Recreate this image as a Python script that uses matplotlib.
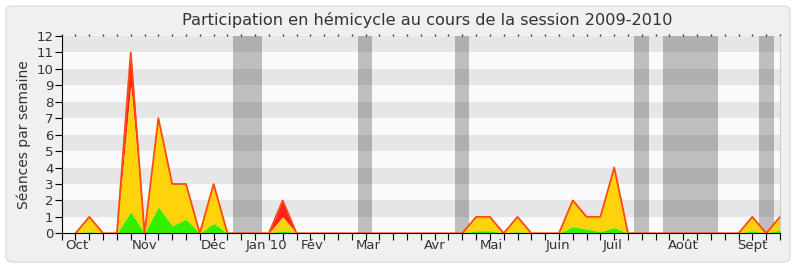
import numpy as np
import matplotlib
matplotlib.use("Agg")
import matplotlib.pyplot as plt
from matplotlib.patches import FancyBboxPatch
from matplotlib.transforms import IdentityTransform

plt.rcParams["font.family"] = ["DejaVu Sans"]

# weekly values, session 2009-2010 (week 1 = first week of October)
weeks = list(range(1, 53))
total = [0, 1, 0, 0, 11, 0, 7, 3, 3, 0, 3, 0, 0, 0, 0, 2, 0, 0, 0, 0,
         0, 0, 0, 0, 0, 0, 0, 0, 0, 1, 1, 0, 1, 0, 0, 0, 2, 1, 1, 4,
         0, 0, 0, 0, 0, 0, 0, 0, 0, 1, 0, 1]
presence = [0, 1, 0, 0, 9, 0, 7, 3, 3, 0, 3, 0, 0, 0, 0, 1, 0, 0, 0, 0,
            0, 0, 0, 0, 0, 0, 0, 0, 0, 1, 1, 0, 1, 0, 0, 0, 2, 1, 1, 4,
            0, 0, 0, 0, 0, 0, 0, 0, 0, 1, 0, 1]
interventions = [0, 0.1, 0, 0, 1.3, 0, 1.6, 0.45, 0.85, 0, 0.6, 0, 0, 0, 0, 0.15, 0, 0, 0, 0,
                 0, 0, 0, 0, 0, 0, 0, 0, 0, 0.15, 0.15, 0, 0.1, 0, 0, 0, 0.4, 0.25, 0.1, 0.35,
                 0, 0, 0, 0, 0, 0, 0, 0, 0, 0.15, 0, 0.2]

# vacation periods (in weeks)
vacations = [(12.4, 14.5), (21.45, 22.5), (28.5, 29.5), (41.45, 42.5), (43.5, 47.5), (50.5, 51.55)]

months = ["Oct", "Nov", "Déc", "Jan 10", "Fév", "Mar", "Avr", "Mai", "Juin", "Juil", "Août", "Sept"]
month_pos = [1.1, 6.0, 11.0, 14.8, 18.1, 22.2, 27.0, 31.1, 35.9, 39.9, 45.0, 50.0]

fig = plt.figure(figsize=(8, 2.67), dpi=100)
fig.patch.set_facecolor("white")
panel = FancyBboxPatch((6, 5), 784, 256, boxstyle="round,pad=0,rounding_size=6",
                       transform=IdentityTransform(), facecolor="#f0f0f0",
                       edgecolor="#dedede", linewidth=1, zorder=-10)
fig.patches.append(panel)

ax = fig.add_axes([0.0771, 0.1262, 0.8979, 0.739])
ax.set_facecolor("#fafafa")
for y0 in range(1, 12, 2):
    ax.axhspan(y0, y0 + 1, color="#e6e6e6", zorder=0, lw=0)
for a, b in vacations:
    ax.axvspan(a, b, color="black", alpha=0.24, zorder=1, lw=0)

w = np.array(weeks)
ax.fill_between(w, presence, total, color="#ff2020", lw=0, zorder=2)
ax.fill_between(w, interventions, presence, color="#ffd30c", lw=0, zorder=2)
ax.fill_between(w, 0, interventions, color="#33f000", lw=0, zorder=2)
ax.plot(w, total, color="#ff4a10", lw=1.3, zorder=3)

ax.set_xlim(0, 52)
ax.set_ylim(0, 12)
ax.set_yticks(range(0, 13))
ax.set_xticks(range(0, 53))
ax.set_xticklabels([])
ax.tick_params(axis="x", length=5, direction="out", color="black")
ax.tick_params(axis="y", length=5, direction="out", labelsize=9.5, labelcolor="#333333", pad=1)

# month names under the axis
for m, p in zip(months, month_pos):
    ax.text(p, -0.03, m, transform=ax.get_xaxis_transform(), ha="center", va="top",
            fontsize=9.5, color="#333333")

# small dotted ticks on top
top = ax.secondary_xaxis("top")
top.set_xticks(range(0, 53))
top.set_xticklabels([])
top.tick_params(length=1.5, width=1, color="#333333", direction="out")
top.spines["top"].set_visible(False)

ax.spines["top"].set_visible(False)
ax.spines["right"].set_color("#cccccc")
ax.spines["left"].set_color("black")
ax.spines["bottom"].set_color("black")
ax.spines["bottom"].set_zorder(4)

ax.set_ylabel("Séances par semaine", fontsize=10, color="#333333", labelpad=4)
ax.set_title("Participation en hémicycle au cours de la session 2009-2010",
             fontsize=11.6, color="#333333", pad=8, x=0.509)

fig.savefig("out.png", dpi=100)
